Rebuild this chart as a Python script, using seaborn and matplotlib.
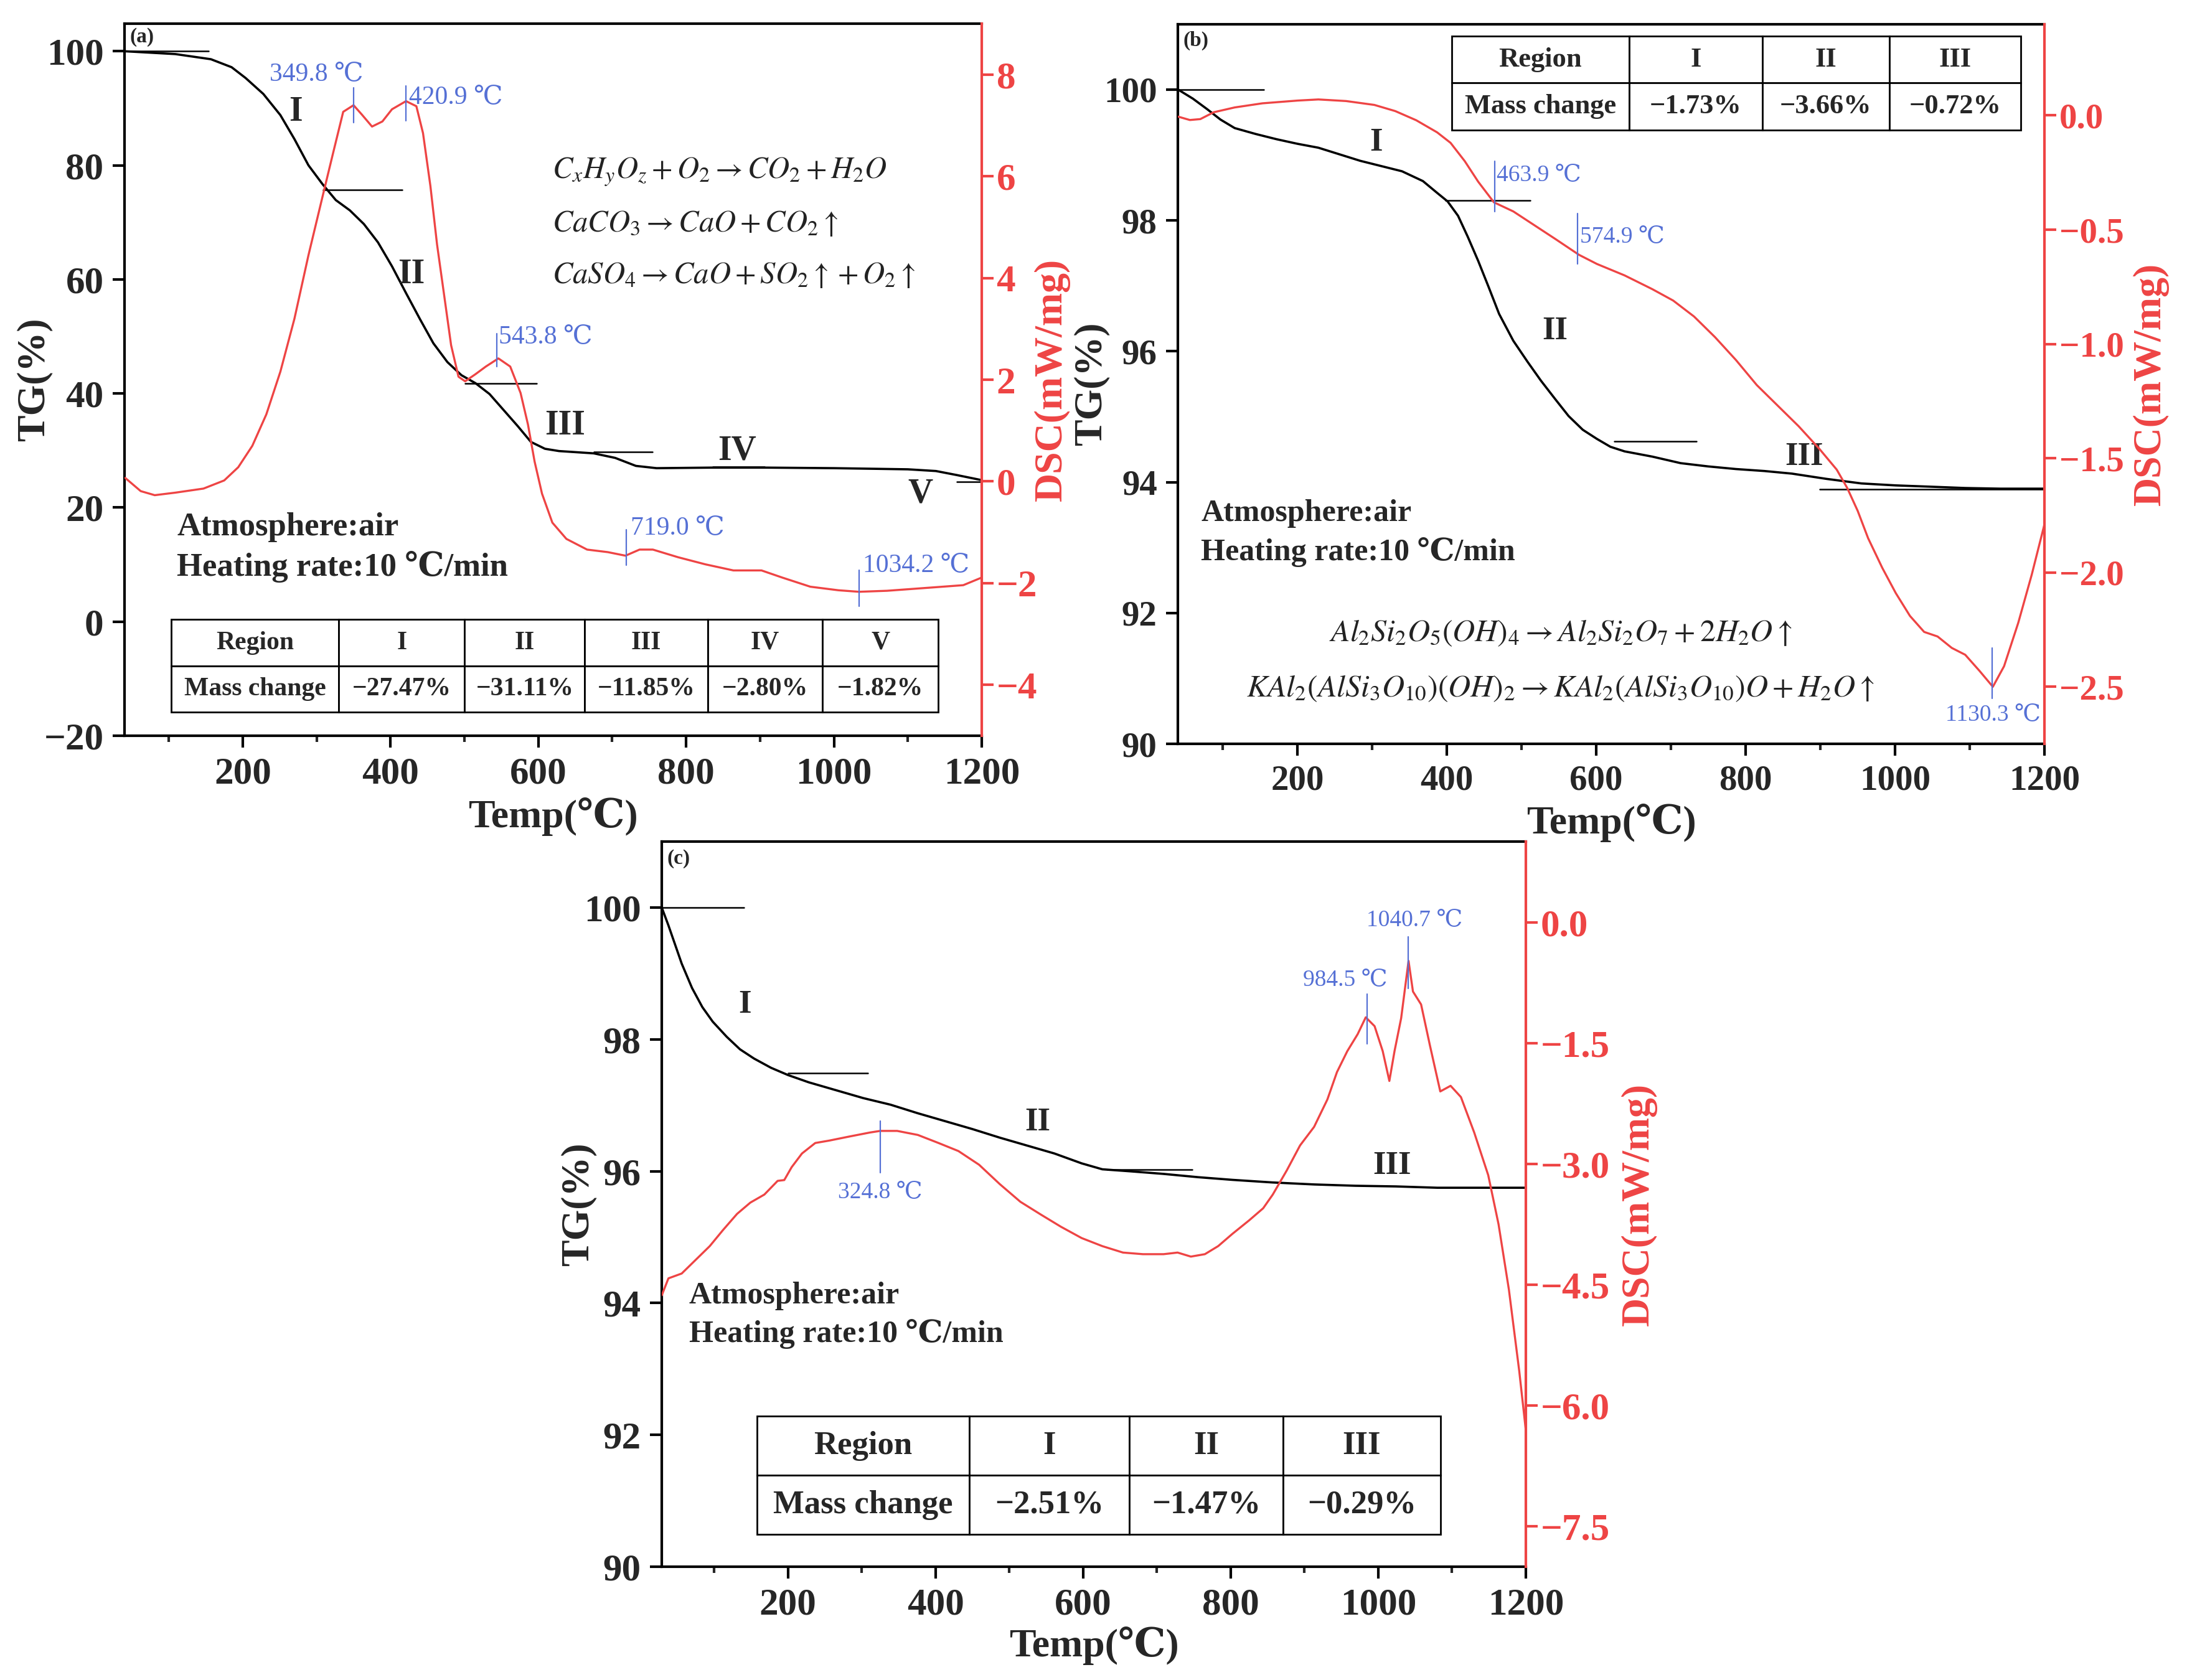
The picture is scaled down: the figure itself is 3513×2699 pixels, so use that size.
import matplotlib
matplotlib.use("Agg")
import matplotlib.pyplot as plt
import seaborn as sns
import numpy as np
from matplotlib.ticker import MultipleLocator

sns.set_theme(style="ticks")
plt.rcParams["font.family"] = ["Liberation Serif", "DejaVu Serif"]
plt.rcParams["mathtext.fontset"] = "stix"
plt.rcParams["axes.unicode_minus"] = True

RED = "#EE4444"
BLUE = "#5570D5"

# ---------------- panel (a) data ----------------
a_tg_temp = [40, 109, 157, 185, 204, 228, 251, 270, 289, 308, 326, 345, 364, 383, 402, 421, 440, 458,
             477, 496, 515, 534, 553, 572, 590, 609, 628, 675, 704, 732, 760, 836, 906, 1000, 1100,
             1138, 1166, 1200]
a_tg = [100, 99.5, 98.6, 97.2, 95.3, 92.5, 88.8, 84.6, 80.0, 76.7, 73.9, 72.1, 69.7, 66.5, 62.3, 57.6,
        53.0, 48.8, 45.5, 43.2, 41.8, 39.9, 37.1, 34.3, 31.5, 30.3, 29.9, 29.5, 28.7, 27.3, 26.9, 27.0,
        27.0, 26.9, 26.7, 26.4, 25.7, 24.8]
a_dsc_temp = [41, 62, 81, 109, 147, 175, 194, 213, 232, 251, 270, 289, 308, 322, 336, 350, 361, 375, 389,
              402, 421, 435, 444, 454, 463, 473, 482, 492, 501, 515, 529, 546, 562, 576, 586, 595, 605,
              619, 638, 666, 694, 718, 737, 755, 789, 826, 864, 902, 930, 968, 1006, 1034, 1072, 1119,
              1175, 1200]
a_dsc = [0.07, -0.19, -0.27, -0.22, -0.14, 0.02, 0.28, 0.70, 1.32, 2.16, 3.20, 4.45, 5.60, 6.44, 7.27,
         7.40, 7.22, 6.98, 7.08, 7.32, 7.48, 7.38, 6.85, 5.81, 4.66, 3.62, 2.68, 2.06, 1.97, 2.11, 2.26,
         2.42, 2.26, 1.74, 1.12, 0.39, -0.24, -0.81, -1.13, -1.34, -1.39, -1.46, -1.34, -1.34, -1.49,
         -1.63, -1.75, -1.75, -1.89, -2.07, -2.14, -2.17, -2.15, -2.10, -2.04, -1.89]
a_peaks = [349.8, 420.9, 543.8, 719.0, 1034.2]
a_peak_lo = [7.06, 7.10, 2.26, -1.65, -2.45]
a_peak_hi = [7.74, 7.78, 2.91, -0.95, -1.75]
a_steps = [(41, 154, 100.0), (309, 416, 75.7), (501, 598, 41.8), (675, 754, 29.7), (836, 906, 27.1),
           (1166, 1200, 24.5)]
a_regions = ["I", "II", "III", "IV", "V"]
a_mass = ["\u221227.47%", "\u221231.11%", "\u221211.85%", "\u22122.80%", "\u22121.82%"]

# ---------------- panel (b) data ----------------
b_tg_temp = [40, 60, 79, 97, 116, 144, 172, 200, 228, 256, 284, 312, 340, 368, 387, 401, 415, 428, 442,
             456, 470, 489, 508, 526, 545, 563, 582, 601, 619, 638, 675, 713, 750, 787, 825, 862, 908,
             955, 1001, 1048, 1094, 1141, 1200]
b_tg = [100, 99.86, 99.7, 99.54, 99.41, 99.32, 99.24, 99.17, 99.11, 99.01, 98.91, 98.83, 98.75, 98.60,
        98.42, 98.29, 98.07, 97.75, 97.38, 96.98, 96.57, 96.16, 95.84, 95.55, 95.27, 95.01, 94.80, 94.66,
        94.54, 94.47, 94.39, 94.29, 94.24, 94.20, 94.17, 94.13, 94.05, 93.98, 93.95, 93.93, 93.91, 93.90,
        93.90]
b_dsc_temp = [40, 56, 70, 88, 116, 153, 200, 228, 265, 303, 331, 359, 387, 405, 424, 442, 463, 489, 517,
              545, 577, 601, 638, 675, 703, 731, 759, 787, 815, 843, 871, 899, 922, 936, 950, 964, 983,
              1001, 1020, 1039, 1057, 1076, 1094, 1113, 1131, 1146, 1165, 1183, 1200]
b_dsc = [-0.005, -0.02, -0.016, 0.014, 0.035, 0.053, 0.065, 0.07, 0.063, 0.046, 0.019, -0.021, -0.074,
         -0.12, -0.20, -0.29, -0.38, -0.42, -0.48, -0.54, -0.61, -0.65, -0.70, -0.76, -0.81, -0.88, -0.97,
         -1.07, -1.18, -1.27, -1.36, -1.46, -1.55, -1.63, -1.73, -1.85, -1.98, -2.09, -2.19, -2.26, -2.28,
         -2.33, -2.36, -2.43, -2.50, -2.41, -2.22, -2.01, -1.79]
b_peaks = [463.9, 574.9, 1130.3]
b_peak_lo = [-0.42, -0.65, -2.55]
b_peak_hi = [-0.20, -0.43, -2.33]
b_steps = [(40, 155, 100.0), (398, 512, 98.30), (624, 734, 94.62), (899, 1200, 93.89)]
b_regions = ["I", "II", "III"]
b_mass = ["\u22121.73%", "\u22123.66%", "\u22120.72%"]

# ---------------- panel (c) data ----------------
c_tg_temp = [29, 38, 47, 56, 70, 84, 98, 117, 135, 154, 177, 200, 228, 265, 302, 339, 376, 413, 450,
             487, 524, 561, 598, 626, 663, 709, 756, 802, 857, 913, 969, 1024, 1080, 1135, 1200]
c_tg = [100, 99.73, 99.44, 99.15, 98.78, 98.49, 98.27, 98.04, 97.85, 97.71, 97.57, 97.46, 97.35, 97.23,
        97.11, 97.01, 96.88, 96.76, 96.64, 96.51, 96.39, 96.27, 96.12, 96.03, 96.0, 95.96, 95.91, 95.87,
        95.83, 95.80, 95.78, 95.77, 95.75, 95.75, 95.75]
c_dsc_temp = [29, 38, 56, 75, 94, 112, 131, 149, 168, 186, 195, 205, 219, 237, 256, 283, 311, 325, 348,
              376, 404, 431, 459, 487, 515, 543, 570, 598, 626, 654, 681, 709, 728, 746, 765, 783, 802,
              825, 844, 857, 876, 894, 913, 931, 944, 958, 972, 983, 995, 1006, 1015, 1022, 1031, 1041,
              1047, 1058, 1070, 1084, 1098, 1112, 1130, 1149, 1163, 1177, 1191, 1200]
c_dsc = [-4.63, -4.42, -4.36, -4.19, -4.02, -3.82, -3.62, -3.48, -3.38, -3.21, -3.20, -3.04, -2.87, -2.74,
         -2.71, -2.66, -2.61, -2.59, -2.59, -2.64, -2.74, -2.84, -3.01, -3.25, -3.47, -3.63, -3.78, -3.92,
         -4.02, -4.10, -4.12, -4.12, -4.10, -4.15, -4.12, -4.02, -3.87, -3.70, -3.55, -3.38, -3.08, -2.77,
         -2.54, -2.20, -1.86, -1.60, -1.39, -1.18, -1.29, -1.60, -1.97, -1.60, -1.19, -0.48, -0.86, -1.02,
         -1.53, -2.10, -2.03, -2.17, -2.61, -3.14, -3.75, -4.56, -5.57, -6.31]
c_peaks = [324.8, 984.5, 1040.7]
c_peak_lo = [-3.11, -1.51, -0.82]
c_peak_hi = [-2.47, -0.89, -0.18]
c_steps = [(29, 140, 100.0), (200, 308, 97.49), (633, 748, 96.03)]
c_regions = ["I", "II", "III"]
c_mass = ["\u22122.51%", "\u22121.47%", "\u22120.29%"]


def style_axes(ax, ax2, tick_fs):
    for s in ["left", "bottom", "top"]:
        ax.spines[s].set_linewidth(3)
        ax.spines[s].set_color("black")
    ax.spines["right"].set_visible(False)
    for s in ["left", "bottom", "top"]:
        ax2.spines[s].set_visible(False)
    ax2.spines["right"].set_linewidth(3)
    ax2.spines["right"].set_color(RED)
    ax.tick_params(axis="both", which="major", direction="out", length=14, width=3,
                   labelsize=tick_fs, pad=10, color="black")
    ax.tick_params(axis="x", which="minor", direction="out", length=7, width=3)
    ax.tick_params(top=False, right=False)
    ax2.tick_params(axis="y", which="major", direction="out", length=14, width=3,
                    labelsize=tick_fs, pad=3, colors=RED)
    for lab in ax.get_xticklabels() + ax.get_yticklabels() + ax2.get_yticklabels():
        lab.set_fontweight("bold")
    ax.xaxis.set_major_locator(MultipleLocator(200))
    ax.xaxis.set_minor_locator(MultipleLocator(100))


def plot_panel(pos, tg_t, tg, dsc_t, dsc, peaks, lo, hi, steps, xlim, ylim, y2lim, ystep, y2step,
               label_x, tick_fs=44):
    ax = fig.add_axes(pos)
    ax2 = ax.twinx()
    sns.lineplot(x=tg_t, y=tg, ax=ax, color="black", linewidth=2.6)
    sns.lineplot(x=dsc_t, y=dsc, ax=ax2, color=RED, linewidth=2.4)
    for x0, x1, yv in steps:
        ax.plot([x0, x1], [yv, yv], color="black", linewidth=1.8)
    for p, l, h in zip(peaks, lo, hi):
        ax2.plot([p, p], [l, h], color=BLUE, linewidth=1.6)
    ax.set_xlim(*xlim)
    ax.set_ylim(*ylim)
    ax2.set_ylim(*y2lim)
    ax.yaxis.set_major_locator(MultipleLocator(ystep))
    ax2.yaxis.set_major_locator(MultipleLocator(y2step))
    ax.set_xlabel("Temp(\u2103)", fontsize=46, fontweight="bold")
    ax.set_ylabel("TG(%)", fontsize=46, fontweight="bold")
    ax2.set_ylabel("DSC(mW/mg)", fontsize=46, fontweight="bold", color=RED)
    # label positions (axes fractions)
    ax.xaxis.set_label_coords(0.5, label_x[0])
    ax.yaxis.set_label_coords(label_x[1], 0.5)
    ax2.yaxis.set_label_coords(label_x[2], 0.5)
    style_axes(ax, ax2, tick_fs)
    return ax, ax2


def add_table(ax, regions, mass, bbox, widths, fs):
    tbl = ax.table(cellText=[["Region"] + regions, ["Mass change"] + mass], cellLoc="center",
                   colWidths=widths, bbox=bbox)
    tbl.auto_set_font_size(False)
    tbl.set_fontsize(fs)
    for cell in tbl.get_celld().values():
        cell.set_linewidth(2)
        cell.set_edgecolor("black")
        cell.set_facecolor("white")
        cell.get_text().set_fontweight("bold")
    return tbl


def minus_fmt(v, p):
    return f"{v:.1f}".replace("-", "\u2212")


fig = plt.figure(figsize=(35.13, 26.99), dpi=100)

# ---- (a)
ax, ax2 = plot_panel([0.0569, 0.5621, 0.392, 0.4237], a_tg_temp, a_tg, a_dsc_temp, a_dsc, a_peaks,
                     a_peak_lo, a_peak_hi, a_steps, (40, 1200), (-20, 104.8), (-5, 9), 20, 2,
                     (-0.087, -0.084, 1.061))
ax.text(0.006, 0.995, "(a)", transform=ax.transAxes, fontsize=24, fontweight="bold", va="top")
for t, x, yv in [("I", 272, 89.3), ("II", 428, 60.9), ("III", 636, 34.3), ("IV", 869, 29.9),
                 ("V", 1117, 22.4)]:
    ax.text(x, yv, t, fontsize=40, fontweight="bold", ha="center", va="center")
ax.text(111, 16.6, "Atmosphere:air", fontsize=38, fontweight="bold", va="center")
ax.text(111, 9.6, "Heating rate:10 \u2103/min", fontsize=38, fontweight="bold", va="center")
for i, eq in enumerate([r"$C_xH_yO_z+O_2\rightarrow CO_2+H_2O$", r"$CaCO_3\rightarrow CaO+CO_2\uparrow$",
                        r"$CaSO_4\rightarrow CaO+SO_2\uparrow+O_2\uparrow$"]):
    ax.text(619, 78.8 - 9.0 * i, eq, fontsize=35, va="center", color="#222222")
for lab, x, yv, ha in [("349.8 \u2103", 300, 8.0, "center"), ("420.9 \u2103", 425, 7.55, "left"),
                       ("543.8 \u2103", 546, 2.84, "left"), ("719.0 \u2103", 725, -0.92, "left"),
                       ("1034.2 \u2103", 1039, -1.65, "left")]:
    ax2.text(x, yv, lab, fontsize=30, color=BLUE, ha=ha, va="center")
add_table(ax2, a_regions, a_mass, [0.0545, 0.033, 0.895, 0.13], [240, 180, 172, 176, 164, 166], 30)

# ---- (b)
ax, ax2 = plot_panel([0.5386, 0.5572, 0.3962, 0.4285], b_tg_temp, b_tg, b_dsc_temp, b_dsc, b_peaks,
                     b_peak_lo, b_peak_hi, b_steps, (40, 1200), (90, 101), (-2.75, 0.4), 2, 0.5,
                     (-0.083, -0.079, 1.102), tick_fs=41)
ax2.yaxis.set_major_formatter(plt.FuncFormatter(minus_fmt))
for lab in ax2.get_yticklabels():
    lab.set_fontweight("bold")
ax.text(0.006, 0.99, "(b)", transform=ax.transAxes, fontsize=24, fontweight="bold", va="top")
for t, x, yv in [("I", 305, 99.19), ("II", 545, 96.31), ("III", 878, 94.39)]:
    ax.text(x, yv, t, fontsize=38, fontweight="bold", ha="center", va="center")
ax.text(71, 93.52, "Atmosphere:air", fontsize=36, fontweight="bold", va="center")
ax.text(71, 92.93, "Heating rate:10 \u2103/min", fontsize=36, fontweight="bold", va="center")
ax.text(552, 91.69, r"$Al_2Si_2O_5(OH)_4\rightarrow Al_2Si_2O_7+2H_2O\uparrow$", fontsize=36,
        ha="center", va="center", color="#222222")
ax.text(552, 90.84, r"$KAl_2(AlSi_3O_{10})(OH)_2\rightarrow KAl_2(AlSi_3O_{10})O+H_2O\uparrow$",
        fontsize=36, ha="center", va="center", color="#222222")
for lab, x, yv, ha in [("463.9 \u2103", 467, -0.26, "left"), ("574.9 \u2103", 578, -0.53, "left"),
                       ("1130.3 \u2103", 1131, -2.62, "center")]:
    ax2.text(x, yv, lab, fontsize=27, color=BLUE, ha=ha, va="center")
add_table(ax2, b_regions, b_mass, [0.316, 0.853, 0.657, 0.13], [255, 191, 183, 189], 32)

# ---- (c)
ax, ax2 = plot_panel([0.3026, 0.0674, 0.3951, 0.4316], c_tg_temp, c_tg, c_dsc_temp, c_dsc, c_peaks,
                     c_peak_lo, c_peak_hi, c_steps, (29, 1200), (90, 101), (-8, 1), 2, 1.5,
                     (-0.082, -0.075, 1.11))
ax2.yaxis.set_major_formatter(plt.FuncFormatter(minus_fmt))
for lab in ax2.get_yticklabels():
    lab.set_fontweight("bold")
ax.text(0.006, 0.99, "(c)", transform=ax.transAxes, fontsize=24, fontweight="bold", va="top")
for t, x, yv in [("I", 142, 98.53), ("II", 538, 96.74), ("III", 1019, 96.08)]:
    ax.text(x, yv, t, fontsize=38, fontweight="bold", ha="center", va="center")
ax.text(66, 94.11, "Atmosphere:air", fontsize=36, fontweight="bold", va="center")
ax.text(66, 93.53, "Heating rate:10 \u2103/min", fontsize=36, fontweight="bold", va="center")
for lab, x, yv in [("324.8 \u2103", 325, -3.35), ("984.5 \u2103", 955, -0.71),
                   ("1040.7 \u2103", 1049, 0.03)]:
    ax2.text(x, yv, lab, fontsize=27, color=BLUE, ha="center", va="center")
add_table(ax2, c_regions, c_mass, [0.110, 0.0446, 0.791, 0.163], [311, 234, 225, 230], 38)

fig.savefig("out.png", dpi=100, facecolor="white")
